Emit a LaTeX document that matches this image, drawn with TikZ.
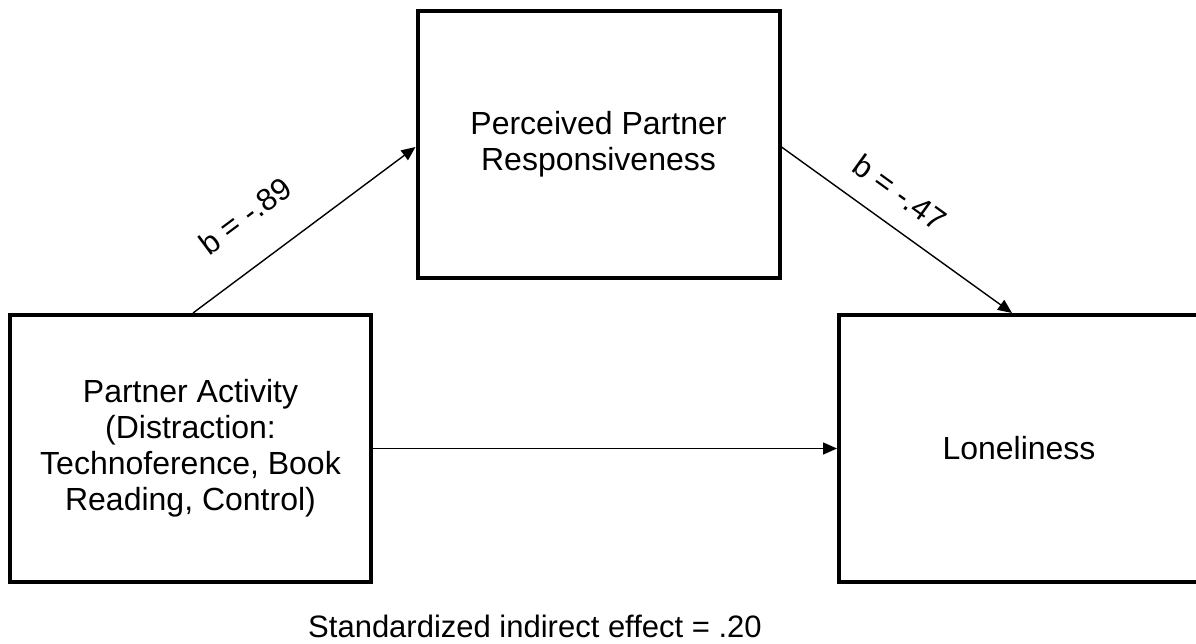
\documentclass[tikz,border=0pt]{standalone}
\usepackage{fontspec}
\setmainfont{Liberation Sans}
\usetikzlibrary{arrows.meta}
\begin{document}
\begin{tikzpicture}[x=1pt,y=-1pt,
  varbox/.style={draw=black, line width=4pt, fill=white, minimum width=#1, minimum height=267pt, align=center, inner sep=0pt, font=\fontsize{32}{36}\selectfont},
  path/.style={line width=1.4pt, -{Triangle[length=14pt,width=12pt]}},
  coef/.style={font=\fontsize{31}{36}\selectfont, inner sep=0pt, sloped}]
\useasboundingbox (0,0) rectangle (1196,644);
\begin{scope}
\clip (0,0) rectangle (1196,644);
\node[varbox=361pt] (left) at (190.5,448.5) {Partner Activity\\(Distraction:\\Technoference, Book\\Reading, Control)};
\node[varbox=362pt] (top) at (598.5,144.5) {Perceived Partner\\Responsiveness};
\node[varbox=360pt] (right) at (1019,448.5) {Loneliness};
\end{scope}
\draw[path] ([xshift=2.5pt]left.north) -- node[coef, pos=0.36, above=35pt] {b = -.89} ([yshift=-2.5pt]top.west);
\draw[path] ([yshift=-2.5pt]top.east) -- node[coef, pos=0.433, above=20pt] {b = -.47} ([xshift=-7pt]right.north);
\draw[path] (left.east) -- (right.west);
\node[font=\fontsize{31}{36}\selectfont, inner sep=0pt] (note) at (535,626) {Standardized indirect effect = .20};
\end{tikzpicture}
\end{document}
